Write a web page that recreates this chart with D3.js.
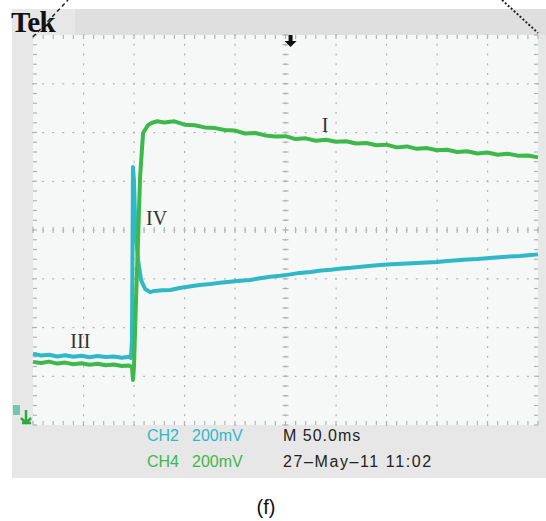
<!DOCTYPE html>
<html>
<head>
<meta charset="utf-8">
<script src="https://cdn.jsdelivr.net/npm/d3@7"></script>
<style>
  body { margin: 0; background: #fff; }
  svg { display: block; }
</style>
</head>
<body>
<svg id="scope"></svg>
<script>
// time in ms (50 ms/div), voltage in mV (200 mV/div)
const ch4Time = [0, 8, 16, 24, 32, 40, 48, 56, 64, 72, 80, 88, 95, 98, 99, 100, 101, 102, 104, 106, 109, 114, 118, 123,
  130, 140, 150, 160, 170, 180, 190, 200, 210, 220, 230, 240, 250, 260, 270, 280, 290, 300, 310, 320, 330, 340,
  350, 360, 370, 380, 390, 400, 410, 420, 430, 440, 450, 460, 470, 480, 490, 500];
const ch4Volt = [-541, -546, -540, -548, -544, -551, -547, -553, -549, -555, -552, -558, -556, -562, -615, -560, -420, -287, -41, 217, 398, 431, 440, 446,
  441, 446, 432, 430, 421, 418, 410, 408, 396, 398, 388, 384, 385, 373, 376, 366, 370, 362, 364, 355, 357, 348,
  350, 339, 343, 333, 336, 327, 329, 320, 323, 314, 318, 309, 313, 305, 306, 298];

const ch2Time = [0, 8, 16, 24, 32, 40, 48, 56, 64, 72, 80, 88, 95, 97, 98, 99, 100, 101, 102, 104, 107, 111, 116,
  120, 128, 136, 145, 155, 165, 175, 185, 195, 205, 215, 225, 235, 245, 255, 264, 275, 285, 295, 305, 315, 325,
  335, 344, 355, 365, 375, 385, 400, 410, 420, 430, 440, 452, 462, 472, 482, 490, 500];
const ch2Volt = [-508, -515, -512, -519, -514, -520, -516, -522, -517, -521, -519, -524, -520, -525, -451, 258, 200, 60, -20, -123, -205, -242, -255,
  -250, -247, -246, -238, -232, -226, -222, -216, -212, -208, -205, -198, -192, -188, -182, -176, -172, -166, -163, -158, -155, -151,
  -147, -144, -141, -138, -136, -134, -131, -127, -124, -121, -119, -115, -112, -109, -107, -104, -100];

const labels = [
  {text: "I", t: 286, v: 402},
  {text: "IV", t: 112, v: 21},
  {text: "III", t: 37, v: -484}
];
const readoutRows = [
  {ch: "CH2", scale: "200mV", info: "M 50.0ms", color: "#2fb8c6"},
  {ch: "CH4", scale: "200mV", info: "27\u2013May\u201311 11:02", color: "#3db84a"}
];

const w = 546, h = 521;
const padLeft = 33, padRight = 538, padTop = 35, padBottom = 425;

const svg = d3.select("#scope").attr("width", w).attr("height", h);

const x = d3.scaleLinear().domain([0, 500]).range([padLeft, padRight]);
const y = d3.scaleLinear().domain([-800, 800]).range([padBottom, padTop]);

// instrument frame
svg.append("rect").attr("x", 12).attr("y", 9).attr("width", 534).attr("height", 469).attr("fill", "#e7e7e7");
svg.append("rect").attr("x", 75).attr("y", 9).attr("width", 471).attr("height", padTop - 9).attr("fill", "#dfdfdf");
svg.append("rect").attr("x", padLeft).attr("y", padTop).attr("width", padRight - padLeft).attr("height", padBottom - padTop).attr("fill", "#f6f7f7");

svg.append("text").attr("x", 11).attr("y", 32)
   .style("font-family", "Liberation Serif, serif").style("font-weight", "bold").style("font-size", "29px")
   .style("letter-spacing", "-0.5px")
   .attr("fill", "#111").text("Tek");

// graticule
const grid = svg.append("g").attr("fill", "#b4b4b4");
const xMinor = d3.range(0, 501, 10);
const yMinor = d3.range(-800, 801, 40);
d3.range(50, 500, 50).forEach(t => {
  grid.selectAll(null).data(yMinor).enter().append("rect")
      .attr("x", x(t) - 0.5).attr("y", d => y(d) - 1).attr("width", 1.2).attr("height", 2);
});
d3.range(-600, 800, 200).forEach(v => {
  grid.selectAll(null).data(xMinor).enter().append("rect")
      .attr("x", d => x(d) - 1).attr("y", y(v) - 0.5).attr("width", 2).attr("height", 1.2);
});
// center crosshair ticks
grid.selectAll(null).data(xMinor).enter().append("rect")
    .attr("x", d => x(d) - 0.6).attr("y", y(0) - 3).attr("width", 1.2).attr("height", 6);
grid.selectAll(null).data(yMinor).enter().append("rect")
    .attr("x", x(250) - 3).attr("y", d => y(d) - 0.6).attr("width", 6).attr("height", 1.2);
// border ticks
grid.selectAll(null).data(xMinor).enter().append("rect")
    .attr("x", d => x(d) - 0.6).attr("y", padTop).attr("width", 1.2).attr("height", 4);
grid.selectAll(null).data(xMinor).enter().append("rect")
    .attr("x", d => x(d) - 0.6).attr("y", padBottom - 4).attr("width", 1.2).attr("height", 4);
grid.selectAll(null).data(yMinor).enter().append("rect")
    .attr("x", padLeft).attr("y", d => y(d) - 0.6).attr("width", 4).attr("height", 1.2);
grid.selectAll(null).data(yMinor).enter().append("rect")
    .attr("x", padRight - 4).attr("y", d => y(d) - 0.6).attr("width", 4).attr("height", 1.2);

// traces
const line = d3.line().x(d => x(d[0])).y(d => y(d[1]));
svg.append("path").datum(d3.zip(ch2Time, ch2Volt))
   .attr("d", line).attr("fill", "none").attr("stroke", "#2fb8c6").attr("stroke-width", 4).attr("stroke-linejoin", "round");
svg.append("path").datum(d3.zip(ch4Time, ch4Volt))
   .attr("d", line).attr("fill", "none").attr("stroke", "#3db84a").attr("stroke-width", 4).attr("stroke-linejoin", "round");

// annotations
svg.selectAll(".lbl").data(labels).enter().append("text")
   .attr("class", "lbl")
   .attr("x", d => x(d.t)).attr("y", d => y(d.v))
   .style("font-family", "Liberation Serif, serif").style("font-size", "20px")
   .attr("fill", "#333").text(d => d.text);

// trigger position marker
svg.append("path").attr("d", `M${x(257)},${padTop}v6h4l-6,6l-6,-6h4v-6z`).attr("fill", "#111");

// channel ground marker
svg.append("rect").attr("x", 13).attr("y", 405).attr("width", 7).attr("height", 10).attr("fill", "#6fc8b0");
svg.append("path").attr("d", "M26,410v12M21,418l5,5l5,-5M22,423h9").attr("stroke", "#2fa83c").attr("stroke-width", 2.5).attr("fill", "none");

// readout
const rows = svg.selectAll(".row").data(readoutRows).enter().append("g")
   .attr("transform", (d, i) => `translate(0, ${441 + i * 26})`)
   .style("font-family", "Liberation Sans, Arial, sans-serif").style("font-size", "16px");
rows.append("text").attr("x", 147).attr("fill", d => d.color).text(d => d.ch);
rows.append("text").attr("x", 192).attr("fill", d => d.color).text(d => d.scale);
rows.append("text").attr("x", 283).attr("fill", "#222")
    .style("letter-spacing", (d, i) => i ? "1.6px" : "1px").text(d => d.info);

// zoom guide lines
svg.append("line").attr("x1", padLeft).attr("y1", padTop + 2).attr("x2", 68).attr("y2", 0)
   .attr("stroke", "#222").attr("stroke-width", 1.5).attr("stroke-dasharray", "4,3");
svg.append("line").attr("x1", 502).attr("y1", 0).attr("x2", padRight).attr("y2", padTop - 2)
   .attr("stroke", "#222").attr("stroke-width", 2).attr("stroke-dasharray", "2,2");

svg.append("text").attr("x", 266).attr("y", 514).attr("text-anchor", "middle")
   .style("font-family", "Liberation Sans, Arial, sans-serif").style("font-size", "20px")
   .attr("fill", "#111").text("(f)");
</script>
</body>
</html>
